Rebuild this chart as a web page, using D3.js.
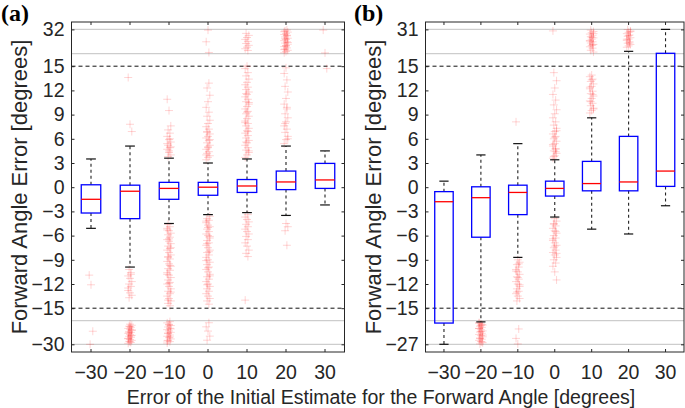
<!DOCTYPE html>
<html><head><meta charset="utf-8">
<script src="https://cdn.jsdelivr.net/npm/d3@7"></script>
<style>
html,body{margin:0;padding:0;background:#fff;}
svg{display:block;}
text{font-family:"Liberation Sans",Arial,sans-serif;fill:#262626;}
</style></head>
<body>
<svg id="chart" width="685" height="408"></svg>
<script>
// ---------- data ----------
const categories = [-30, -20, -10, 0, 10, 20, 30];
const dataLimit = 15;

// panel (a)
const aYTicks = [-30, -15, -12, -9, -6, -3, 0, 3, 6, 9, 12, 15, 32];
const aMin = -30, aMax = 32;
const aQ1  = [-3.2, -3.9, -1.5, -1.0, -0.65, -0.3, -0.15];
const aMed = [-1.5, -0.5, -0.15, 0.0, 0.15, 0.65, 0.9];
const aQ3  = [0.3, 0.25, 0.6, 0.6, 0.95, 2.0, 2.95];
const aLo  = [-5.1, -9.9, -4.5, -3.4, -3.15, -3.5, -2.2];
const aHi  = [3.5, 5.1, 3.6, 3.0, 3.5, 5.1, 4.5];
const aOutliers = [
  [-10.9, -12.1, -21.7, -30],
  [13.6, 7.8, 6.9, -10.2, -10.6, -11.0, -11.3, -11.7, -12.0, -12.3, -12.8, -13.1, -13.4, -13.7, -10.8, -12.5,
   -17.2, -17.9, -18.5, -19.2, -19.9, -20.4, -21.1, -21.8, -22.4, -23.0, -23.7, -24.3, -24.9, -25.6, -26.2,
   -26.9, -27.5, -28.1, -28.8, -29.4, -18.8, -20.9, -22.7, -24.6, -26.5, -28.4],
  [10.9, 9.5, 7.6, 7.1, 6.7, 6.3, 5.9, 5.6, 5.2, 4.9, 4.7, 4.3, 4.0, 3.8, 6.0, 5.4, 4.5, 5.0,
   -4.6, -4.9, -5.1, -5.4, -5.7, -5.9, -6.2, -6.5, -6.7, -7.0, -7.3, -7.6, -7.8, -8.1, -8.4, -8.7, -8.9,
   -9.2, -9.5, -9.8, -10.1, -10.3, -10.6, -10.9, -11.2, -11.5, -11.8, -12.0, -12.3, -12.6, -12.9, -13.2,
   -13.5, -13.8, -14.1, -14.4, -14.7, -5.3, -6.4, -7.5, -8.6, -9.7, -10.8, -11.9, -13.0, -14.0,
   -15.6, -16.4, -17.3, -18.1, -19.0, -19.8, -20.7, -21.5, -22.4, -23.2, -24.1, -24.9, -25.8, -26.6,
   -27.5, -28.3, -29.2, -17.7, -20.2, -22.8, -25.3, -27.9],
  [3.4, 3.7, 3.9, 4.2, 4.4, 4.7, 5.0, 5.2, 5.5, 5.8, 6.1, 6.3, 6.6, 6.9, 7.2, 7.5, 7.9, 8.3, 8.8, 9.3,
   9.9, 10.6, 11.4, 12.3, 12.9, 4.0, 4.9, 5.9, 6.8, 15.8, 23.3, 31.5,
   -3.6, -3.9, -4.1, -4.4, -4.7, -4.9, -5.2, -5.5, -5.8, -6.0, -6.3, -6.6, -6.9, -7.2, -7.5, -7.8, -8.1,
   -8.4, -8.7, -9.0, -9.3, -9.6, -9.9, -10.2, -10.5, -10.8, -11.1, -11.4, -11.7, -12.0, -12.3, -12.6,
   -12.9, -13.2, -13.5, -13.8, -14.1, -14.5, -4.2, -5.0, -6.1, -7.0, -8.0, -9.1, -10.0, -11.0, -12.1,
   -16.3, -18.9, -21.6, -24.8, -27.4],
  [3.7, 4.0, 4.3, 4.6, 4.9, 5.2, 5.5, 5.8, 6.1, 6.4, 6.7, 7.0, 7.3, 7.6, 7.9, 8.2, 8.5, 8.8, 9.1, 9.4,
   9.7, 10.0, 10.3, 10.6, 10.9, 11.2, 11.5, 11.8, 12.1, 12.4, 12.7, 13.0, 13.4, 13.8, 14.2, 14.7, 15.0,
   4.5, 5.6, 6.9, 8.0, 9.3, 10.5, 11.6,
   17.2, 18.4, 19.5, 20.8, 22.1, 23.6, 25.0, 26.3, 27.8, 29.2,
   -3.4, -3.7, -4.0, -4.3, -4.6, -4.9, -5.2, -5.5, -5.8, -6.1, -6.5, -6.9, -7.3, -7.8, -8.2, -8.6, -14.0],
  [5.4, 5.9, 6.3, 6.8, 7.2, 7.6, 8.1, 8.6, 9.1, 9.7, 10.3, 11.0, 11.8, 12.5, 13.3, 14.1, 14.8, 6.0, 7.9, 9.9,
   15.6, 16.5, 17.3, 18.2, 19.0, 19.9, 20.7, 21.6, 22.4, 23.3, 24.1, 25.0, 25.8, 26.7, 27.5, 28.4, 29.2,
   30.1, 30.9, 31.6, 17.8, 20.3, 22.8, 25.4, 27.9, 30.4,
   -4.5, -4.9, -5.4, -7.2],
  [31.5, 15.5, 14.7]
];

// panel (b)
const bYTicks = [-27, -15, -12, -9, -6, -3, 0, 3, 6, 9, 12, 15, 31];
const bMin = -27, bMax = 31;
const bQ1  = [-16.2, -6.2, -3.4, -1.1, -0.45, -0.45, 0.1];
const bMed = [-1.8, -1.3, -0.65, -0.15, 0.45, 0.65, 2.0];
const bQ3  = [-0.55, 0.05, 0.25, 0.75, 3.2, 6.3, 15.2];
const bLo  = [-27, -15.6, -8.7, -3.7, -5.2, -5.8, -2.3];
const bHi  = [0.75, 4.0, 5.4, 3.4, 8.6, 16.5, 31];
const bOutliers = [
  [],
  [-16.0, -16.6, -17.2, -17.8, -18.4, -19.0, -19.6, -20.2, -20.8, -21.4, -22.0, -22.6, -23.2, -23.8, -24.4,
   -25.0, -25.6, -26.2, -26.8, -17.0, -18.9, -20.5, -22.3, -24.1, -25.8, -16.3, -17.5],
  [8.1, -9.0, -9.3, -9.6, -9.9, -10.2, -10.5, -10.8, -11.1, -11.4, -11.7, -12.0, -12.3, -12.6, -12.9, -13.2,
   -13.5, -13.8, -14.1, -9.5, -10.4, -11.2, -12.1, -13.0, -19.2, -24.0, -26.8],
  [3.6, 3.9, 4.2, 4.5, 4.8, 5.1, 5.4, 5.7, 6.0, 6.3, 6.6, 6.9, 7.3, 7.7, 8.1, 8.6, 9.1, 9.6, 10.2, 10.8,
   11.5, 12.3, 13.2, 14.2, 4.4, 5.3, 6.2, 7.0, 3.8, 4.7, 30.0,
   -3.9, -4.2, -4.5, -4.8, -5.1, -5.4, -5.7, -6.0, -6.3, -6.6, -6.9, -7.2, -7.5, -7.8, -8.1, -8.4, -8.7,
   -9.0, -9.4, -9.8, -10.5, -11.5, -4.6, -5.5, -6.4, -7.3, -8.2],
  [9.2, 9.5, 9.8, 10.1, 10.4, 10.7, 11.0, 11.3, 11.6, 11.9, 12.2, 12.5, 12.8, 13.1, 13.4, 13.7, 13.9,
   9.7, 10.6, 11.5, 12.4, 13.3,
   16.0, 17.2, 18.6, 19.5, 20.3, 21.1, 22.0, 22.8, 23.7, 24.5, 25.4, 26.2, 27.1, 27.9, 28.8, 29.6, 30.5,
   20.8, 23.2, 25.8, 28.2],
  [19.2, 20.1, 21.0, 21.9, 22.8, 23.7, 24.6, 25.5, 26.4, 27.3, 28.2, 29.1, 30.0, 30.9, 22.0, 24.5, 27.0, 29.5],
  []
];

const xLabel = "Error of the Initial Estimate for the Forward Angle [degrees]";
const yLabel = "Forward Angle Error [degrees]";

// ---------- drawing ----------
const svg = d3.select("#chart");
const FS = 19.5;
const eps = 0.0001;

function panel(cfg) {
  const {x0, x1, top, bottom, min, max, q1, med, q3, lo, hi, outs, ticks, tag, tagX, yLabX} = cfg;
  const x = d3.scaleBand().domain(categories).range([x0, x1]).padding(0);
  const y = d3.scaleLinear()
    .domain([min, -dataLimit - eps, -dataLimit, dataLimit, dataLimit + eps, max])
    .range([344.3, 320.7, 308.2, 66.2, 53.6, 29.4]);
  const g = svg.append("g");
  const cx = c => x(c) + x.bandwidth() / 2;
  const bw = x.bandwidth() * 0.5, cw = x.bandwidth() * 0.25;

  g.selectAll("line.gray").data([min, -dataLimit - eps, dataLimit + eps, max]).join("line")
    .attr("x1", x0).attr("x2", x1).attr("y1", d => y(d)).attr("y2", d => y(d))
    .attr("stroke", "#cdcdcd").attr("stroke-width", 1.3);
  g.selectAll("line.lim").data([-dataLimit, dataLimit]).join("line")
    .attr("x1", x0).attr("x2", x1).attr("y1", d => y(d)).attr("y2", d => y(d))
    .attr("stroke", "#111").attr("stroke-width", 1).attr("stroke-dasharray", "4,3");

  const pts = [];
  outs.forEach((arr, i) => arr.forEach((v, j) => pts.push({c: categories[i], v, j})));
  const pg = g.append("g").attr("stroke", "#ff0000").attr("stroke-opacity", 0.17).attr("stroke-width", 1);
  pts.forEach(p => {
    const px = cx(p.c) + ((p.j * 7) % 5 - 2) * 0.9, py = y(p.v);
    pg.append("path").attr("d", `M${px - 4},${py}H${px + 4}M${px},${py - 4}V${py + 4}`);
  });

  categories.forEach((c, i) => {
    const X = cx(c);
    g.append("line").attr("x1", X).attr("x2", X).attr("y1", y(q3[i])).attr("y2", y(hi[i]))
      .attr("stroke", "#222").attr("stroke-dasharray", "3,3").attr("stroke-width", 1.1);
    g.append("line").attr("x1", X).attr("x2", X).attr("y1", y(q1[i])).attr("y2", y(lo[i]))
      .attr("stroke", "#222").attr("stroke-dasharray", "3,3").attr("stroke-width", 1.1);
    [hi[i], lo[i]].forEach(v => g.append("line")
      .attr("x1", X - cw / 2).attr("x2", X + cw / 2).attr("y1", y(v)).attr("y2", y(v))
      .attr("stroke", "#111").attr("stroke-width", 1.2));
    g.append("rect").attr("x", X - bw / 2).attr("width", bw)
      .attr("y", y(q3[i])).attr("height", y(q1[i]) - y(q3[i]))
      .attr("fill", "none").attr("stroke", "#0000ff").attr("stroke-width", 1.3);
    g.append("line").attr("x1", X - bw / 2).attr("x2", X + bw / 2)
      .attr("y1", y(med[i])).attr("y2", y(med[i]))
      .attr("stroke", "#ff0000").attr("stroke-width", 1.3);
  });

  const ax = svg.append("g");
  const left = ax.append("g").attr("transform", `translate(${x0},0)`)
    .call(d3.axisLeft(y).tickValues(ticks).tickFormat(d3.format("d")).tickSizeInner(-3).tickSizeOuter(0).tickPadding(7));
  const right = ax.append("g").attr("transform", `translate(${x1},0)`)
    .call(d3.axisRight(y).tickValues(ticks).tickFormat("").tickSizeInner(-3).tickSizeOuter(0));
  const bot = ax.append("g").attr("transform", `translate(0,${bottom})`)
    .call(d3.axisBottom(x).tickSizeInner(-3).tickSizeOuter(0).tickPadding(13).tickFormat(d3.format("d")));
  const topA = ax.append("g").attr("transform", `translate(0,${top})`)
    .call(d3.axisTop(x).tickSizeInner(-3).tickSizeOuter(0).tickFormat(""));
  [left, right, bot, topA].forEach(a => {
    a.attr("font-size", FS).attr("font-family", "Liberation Sans, Arial, sans-serif");
    a.select(".domain").remove();
    a.selectAll("line").attr("stroke", "#262626");
    a.selectAll("text").attr("fill", "#262626");
  });
  svg.append("rect").attr("x", x0).attr("y", top).attr("width", x1 - x0).attr("height", bottom - top)
    .attr("fill", "none").attr("stroke", "#262626").attr("stroke-width", 1);

  svg.append("text").attr("transform", `translate(${yLabX},187) rotate(-90)`)
    .attr("text-anchor", "middle").attr("dy", "0.35em").attr("font-size", 22).text(yLabel);
  svg.append("text").attr("x", tagX).attr("y", 21).attr("font-size", 24)
    .attr("font-weight", "bold").style("font-family", "Liberation Serif, Times New Roman, serif")
    .style("fill", "#000").text(tag);
}

panel({x0: 71.5, x1: 344.5, top: 22, bottom: 352, min: aMin, max: aMax, q1: aQ1, med: aMed, q3: aQ3,
  lo: aLo, hi: aHi, outs: aOutliers, ticks: aYTicks, tag: "(a)", tagX: 1, yLabX: 19});
panel({x0: 425.5, x1: 684, top: 22, bottom: 352, min: bMin, max: bMax, q1: bQ1, med: bMed, q3: bQ3,
  lo: bLo, hi: bHi, outs: bOutliers, ticks: bYTicks, tag: "(b)", tagX: 354, yLabX: 373});

svg.append("text").attr("x", 381).attr("y", 404).attr("text-anchor", "middle")
  .attr("font-size", FS).text(xLabel);
</script>
</body></html>
